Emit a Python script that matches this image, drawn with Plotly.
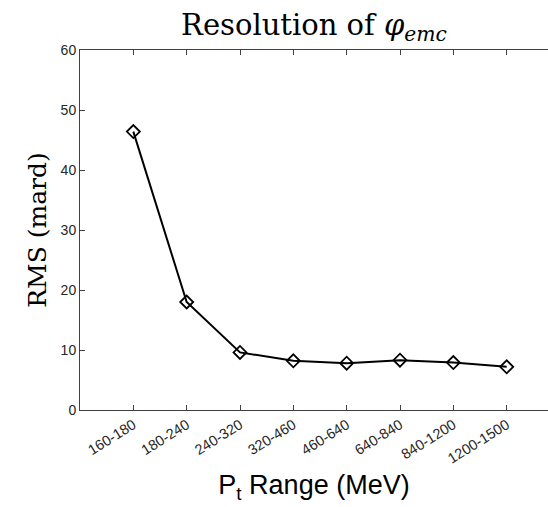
import plotly.graph_objects as go

categories = ["160-180", "180-240", "240-320", "320-460", "460-640", "640-840", "840-1200", "1200-1500"]
rms_values = [46.4, 18.0, 9.6, 8.2, 7.8, 8.3, 7.9, 7.2]
y_ticks = [0, 10, 20, 30, 40, 50, 60]

x_pos = list(range(1, len(categories) + 1))

fig = go.Figure()
fig.add_trace(go.Scatter(
    x=x_pos, y=rms_values, mode="lines+markers",
    line=dict(color="black", width=2),
    marker=dict(symbol="diamond-open", size=10, color="black", line=dict(width=1.8, color="black")),
    showlegend=False,
))

axis_col = "#404040"
fig.update_layout(
    width=548, height=507,
    margin=dict(l=80, r=0, t=50, b=97),
    paper_bgcolor="white", plot_bgcolor="white",
    title=dict(
        text="Resolution of <i>φ</i><sub><i>emc</i></sub>",
        font=dict(family="DejaVu Serif", size=29, color="black"),
        x=0.5, xanchor="center", xref="paper",
        y=1 - 25 / 507, yanchor="middle", yref="container",
    ),
    xaxis=dict(
        range=[0, 8.775],
        tickmode="array", tickvals=x_pos, ticktext=categories,
        tickangle=-32,
        ticks="inside", ticklen=5, tickcolor=axis_col, tickwidth=1,
        showline=True, linecolor=axis_col, linewidth=1, mirror="ticks",
        showgrid=False, zeroline=False,
        tickfont=dict(family="Liberation Sans", size=14.5, color="#262626"),
        title=dict(text="P<sub>t</sub> Range (MeV)",
                   font=dict(family="Liberation Sans", size=27, color="black"),
                   standoff=9),
        automargin=False,
    ),
    yaxis=dict(
        range=[0, 60],
        tickmode="array", tickvals=y_ticks,
        ticks="inside", ticklen=5, tickcolor=axis_col, tickwidth=1,
        showline=True, linecolor=axis_col, linewidth=1, mirror=False,
        showgrid=False, zeroline=False,
        tickfont=dict(family="Liberation Sans", size=14, color="#262626"),
        title=dict(text="RMS (mard)",
                   font=dict(family="DejaVu Serif", size=25, color="black"),
                   standoff=6),
        automargin=False,
    ),
)

fig.write_html("out.html", config={"displayModeBar": False},
               post_script="document.body.style.margin='0';")
